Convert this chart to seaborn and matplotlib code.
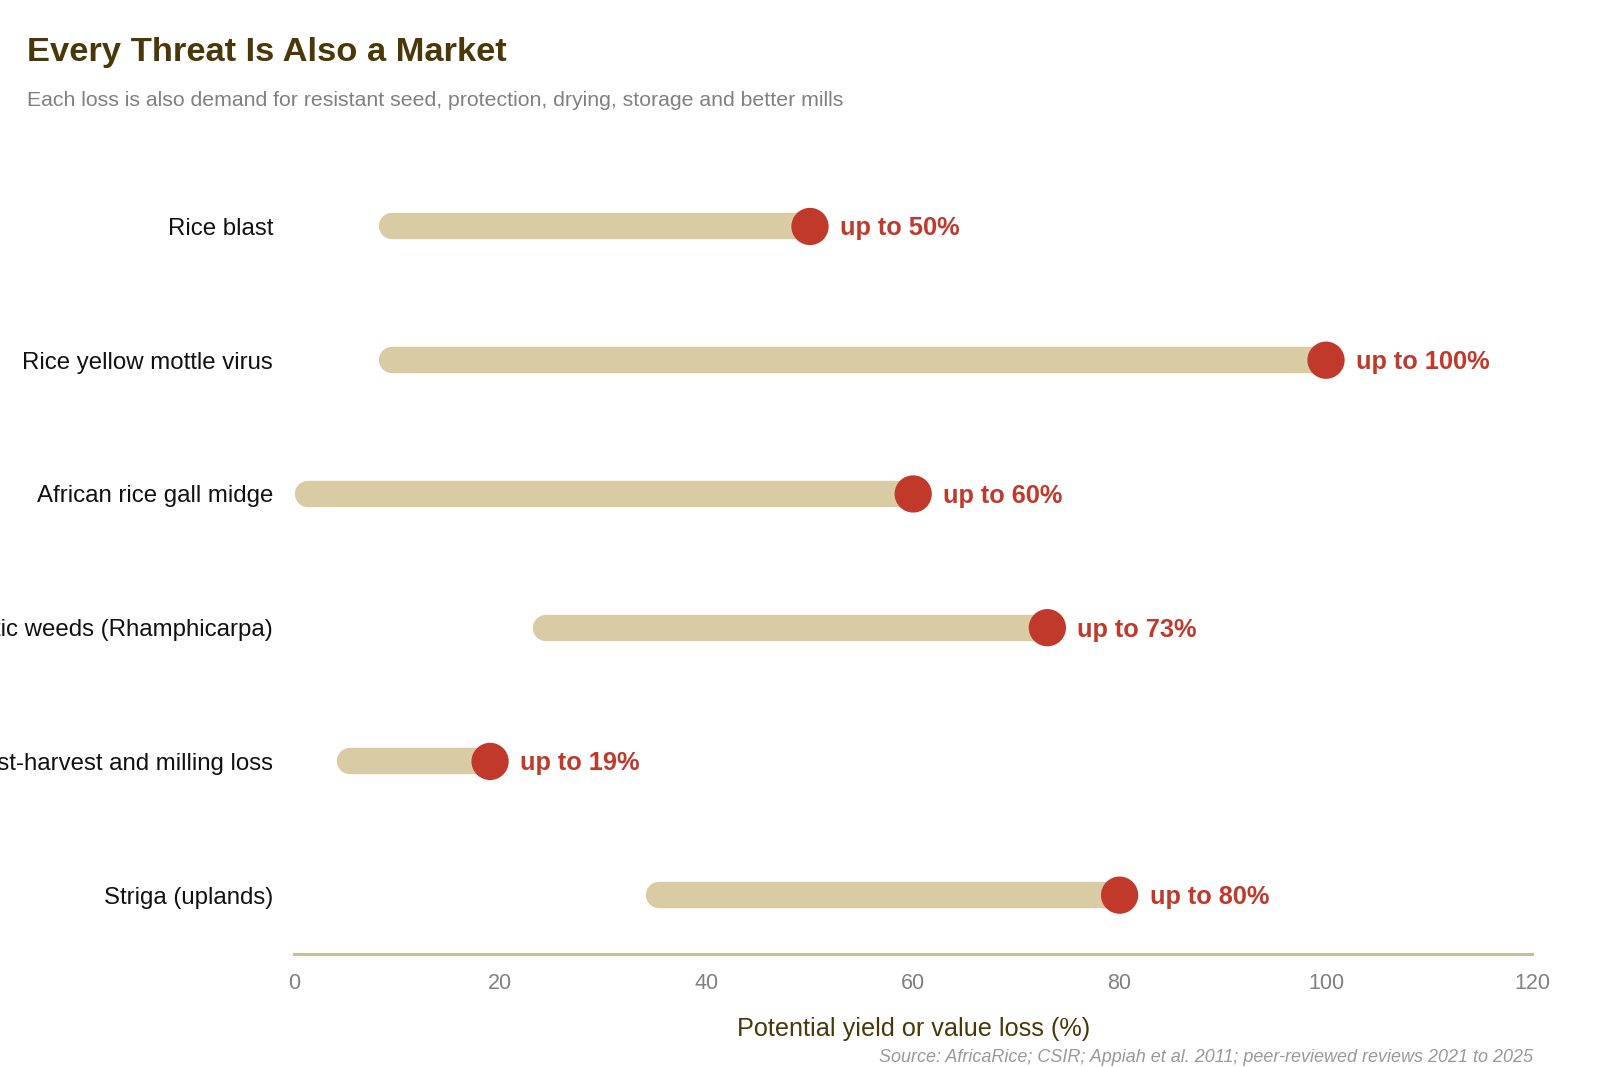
import matplotlib
matplotlib.use("Agg")
import matplotlib.pyplot as plt
import seaborn as sns
import pandas as pd

threats = [
    "Rice blast",
    "Rice yellow mottle virus",
    "African rice gall midge",
    "Parasitic weeds (Rhamphicarpa)",
    "Post-harvest and milling loss",
    "Striga (uplands)",
]
low_values = [9.5, 9.5, 1.4, 24.4, 5.4, 35.4]
high_values = [50, 100, 60, 73, 19, 80]
x_ticks = [0, 20, 40, 60, 80, 100, 120]

df = pd.DataFrame({"threat": threats, "low": low_values, "high": high_values})
df["label"] = ["up to %d%%" % v for v in high_values]

sns.set_theme(style="white")
plt.rcParams["font.family"] = ["Liberation Sans", "DejaVu Sans"]

BAR = "#d9cba3"
DOT = "#c0392b"
BROWN = "#4a3808"
GREY = "#808080"

fig = plt.figure(figsize=(16, 10.67), dpi=100)
ax = fig.add_axes([0.18375, 0.1059, 0.774, 0.737])

ypos = list(range(len(threats)))
ax.hlines(y=ypos, xmin=df["low"], xmax=df["high"], color=BAR,
          linewidth=19, capstyle="round", zorder=1)
sns.scatterplot(data=df, x="high", y="threat", ax=ax, color=DOT, s=720,
                edgecolor="none", zorder=3, legend=False)

for i, row in df.iterrows():
    ax.annotate(row["label"], xy=(row["high"], i), xytext=(30, -2),
                textcoords="offset pixels", va="center", ha="left",
                fontsize=18.3, fontweight="bold", color=DOT)

ax.set_xlim(0, 120)
ax.set_ylim(len(threats) - 1 + 0.44, -0.44)
ax.set_xticks(x_ticks)
ax.set_xticklabels([str(t) for t in x_ticks])
ax.set_yticks(ypos)
ax.set_yticklabels(threats)

for s in ["top", "right", "left"]:
    ax.spines[s].set_visible(False)
ax.spines["bottom"].set_color("#c9bea0")
ax.spines["bottom"].set_linewidth(2.2)

ax.tick_params(axis="y", length=0, pad=15, labelsize=17.3, labelcolor="#111111")
ax.tick_params(axis="x", length=0, pad=14, labelsize=15.5, labelcolor=GREY)
ax.set_xlabel("Potential yield or value loss (%)", fontsize=18.2, color=BROWN, labelpad=16)
ax.set_ylabel("")
ax.grid(False)

fig.text(27 / 1600, 1 - 52 / 1067, "Every Threat Is Also a Market",
         fontsize=24.8, fontweight="bold", color=BROWN, ha="left", va="center")
fig.text(27 / 1600, 1 - 101 / 1067,
         "Each loss is also demand for resistant seed, protection, drying, storage and better mills",
         fontsize=15.3, color=GREY, ha="left", va="center")
fig.text(1533 / 1600, 1 - 1057 / 1067,
         "Source: AfricaRice; CSIR; Appiah et al. 2011; peer-reviewed reviews 2021 to 2025",
         fontsize=12.95, color="#999999", style="italic", ha="right", va="center")

fig.savefig("out.png", dpi=100, facecolor="white")
